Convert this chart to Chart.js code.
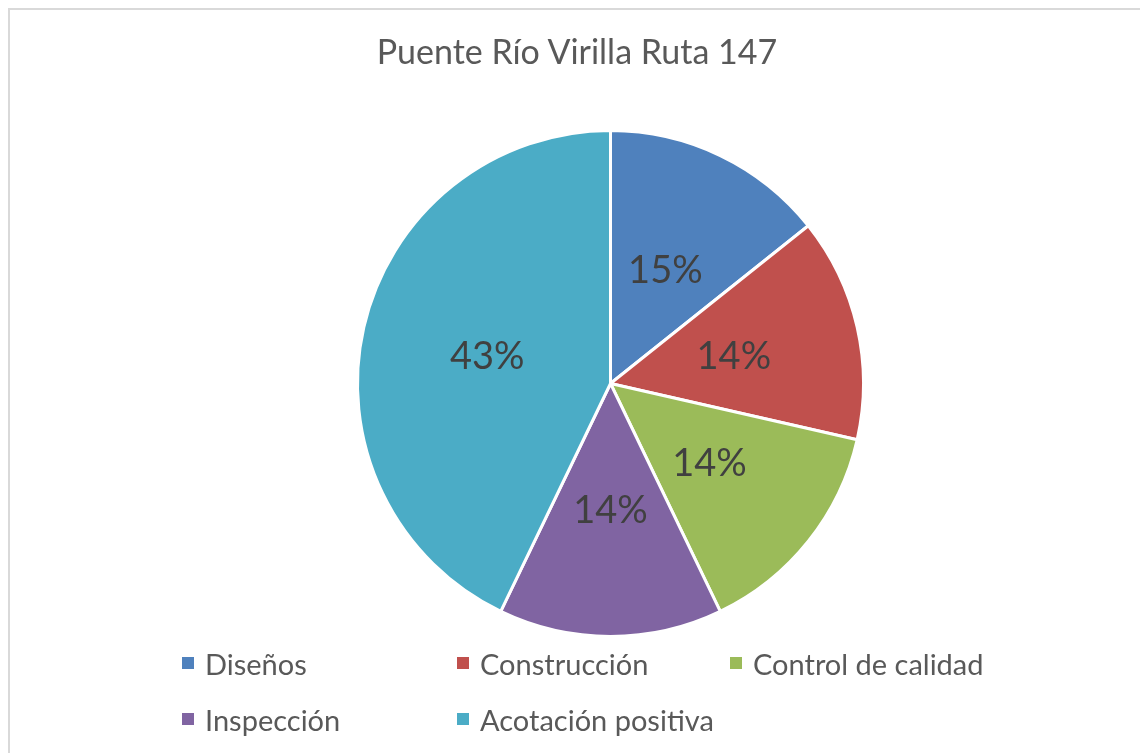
<!DOCTYPE html>
<html lang="es">
<head>
<meta charset="utf-8">
<title>Puente Río Virilla Ruta 147</title>
<script src="https://cdn.jsdelivr.net/npm/chart.js"></script>
<style>
  html, body { margin: 0; padding: 0; background: #fff; overflow: hidden; }
  #wrap { position: relative; width: 1140px; height: 753px; font-family: Lato, "Noto Sans", sans-serif; }
  #frame { position: absolute; left: 8px; top: 8px; width: 1200px; height: 800px; border: 2px solid #d9d9d9; box-sizing: border-box; }
  #chart { position: absolute; left: 0; top: 0; }
  #title { position: absolute; left: 8px; width: 1138px; top: 30px; text-align: center; font-size: 34px; color: #595959; }
  #legend { position: absolute; left: 182px; top: 645px; display: grid; grid-template-columns: 275px 273px 300px; grid-auto-rows: 56px; }
  .item { display: flex; align-items: center; height: 36px; font-size: 29px; color: #595959; white-space: nowrap; }
  .box { width: 12px; height: 12px; margin-right: 11px; flex: none; }
</style>
</head>
<body>
<div id="wrap">
  <div id="frame"></div>
  <canvas id="chart" width="1140" height="753"></canvas>
  <div id="title">Puente Río Virilla Ruta 147</div>
  <div id="legend"></div>
</div>
<script>
// data (slices look equal, 1/7 each, the big one 3/7)
const categories = ['Diseños', 'Construcción', 'Control de calidad', 'Inspección', 'Acotación positiva'];
const values = [1, 1, 1, 1, 3];
const pctLabels = ['15%', '14%', '14%', '14%', '43%'];
const colors = ['#4f81bd', '#c0504d', '#9bbb59', '#8064a2', '#4bacc6'];

// draws the percentage in the middle of each slice
const sliceLabels = {
	id: 'sliceLabels',
	afterDatasetsDraw(chart) {
		const ctx = chart.ctx;
		const meta = chart.getDatasetMeta(0);
		ctx.save();
		ctx.font = '38px Lato, "Noto Sans", sans-serif';
		ctx.fillStyle = '#404040';
		ctx.textAlign = 'center';
		ctx.textBaseline = 'middle';
		meta.data.forEach(function(arc, i) {
			const p = arc.tooltipPosition();
			ctx.fillText(pctLabels[i], p.x, p.y + 1);
		});
		ctx.restore();
	}
};

const chart = new Chart(document.getElementById('chart').getContext('2d'), {
	type: 'pie',
	data: {
		labels: categories,
		datasets: [{
			data: values,
			backgroundColor: colors,
			borderColor: '#ffffff',
			borderWidth: 3
		}]
	},
	options: {
		responsive: false,
		animation: false,
		layout: {
			padding: { left: 356, right: 275, top: 129, bottom: 115 }
		},
		plugins: {
			legend: { display: false },
			title: { display: false },
			tooltip: { enabled: false }
		}
	},
	plugins: [sliceLabels]
});

// html legend laid out like the excel grid
const legendItems = Chart.overrides.pie.plugins.legend.labels.generateLabels(chart);
const legendEl = document.getElementById('legend');
legendItems.forEach(function(item) {
	const div = document.createElement('div');
	div.className = 'item';
	const box = document.createElement('span');
	box.className = 'box';
	box.style.background = item.fillStyle;
	div.appendChild(box);
	div.appendChild(document.createTextNode(item.text));
	legendEl.appendChild(div);
});
</script>
</body>
</html>
